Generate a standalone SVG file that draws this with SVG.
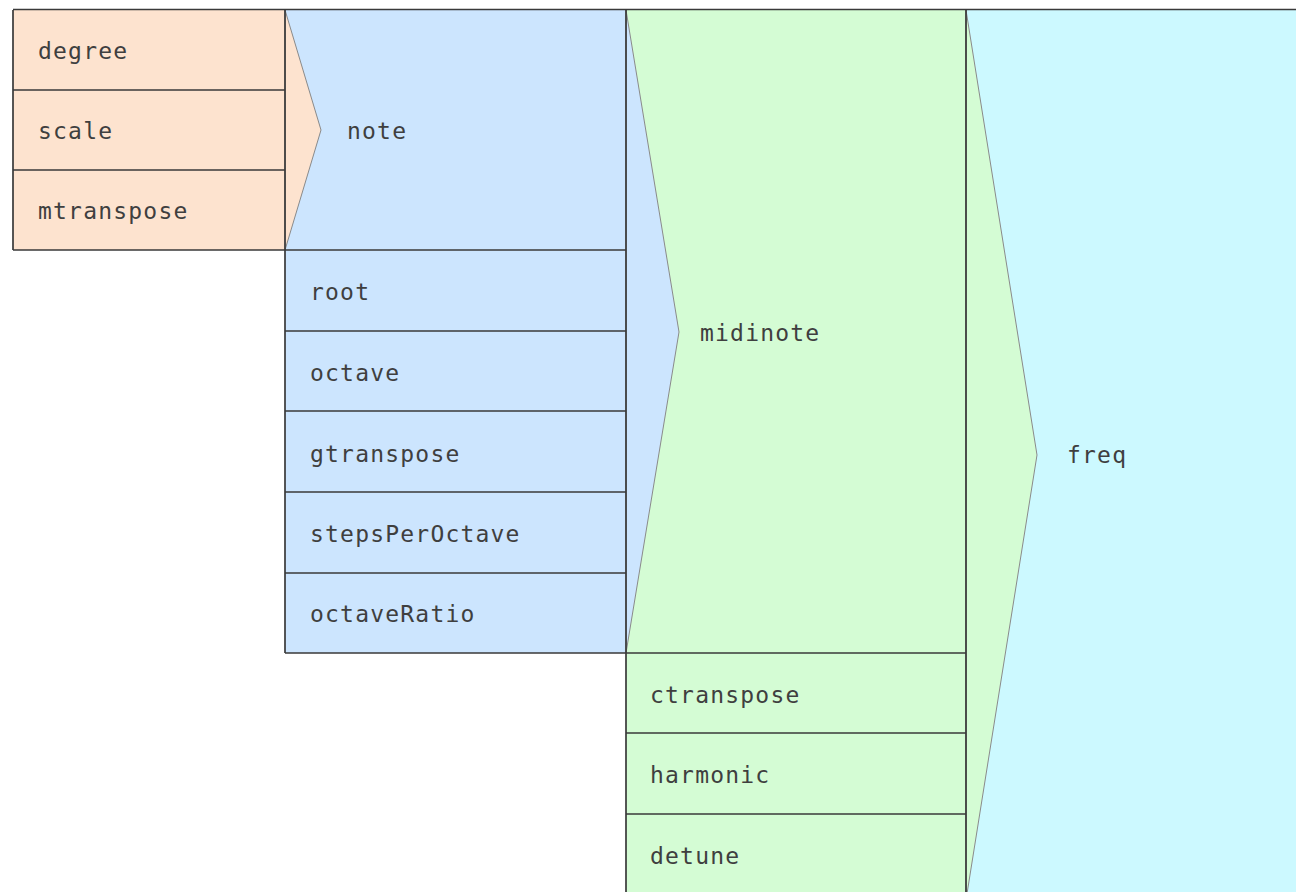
<svg xmlns="http://www.w3.org/2000/svg" width="1296" height="892" viewBox="0 0 1296 892">
<style>
.t{font-family:"DejaVu Sans Mono","Liberation Mono",monospace;font-size:23px;fill:#3f3f3f;letter-spacing:1.2px}
.peach{fill:#fde3cf}
.blue{fill:#cce5fe}
.green{fill:#d4fcd4}
.cyan{fill:#ccf9ff}
.ln{stroke:#3a3a3a;stroke-width:1.7;fill:none}
.chev{stroke:#8a8a8a;stroke-width:1}
</style>
<rect width="1296" height="892" fill="#ffffff"/>
<g id="freq">
<rect class="cyan" x="966" y="10" width="340" height="890"/>
<text class="t" x="1067" y="463">freq</text>
</g>
<g id="midinote">
<rect class="green" x="626" y="10" width="340" height="890"/>
<text class="t" x="700" y="341">midinote</text>
<text class="t" x="650" y="703">ctranspose</text>
<text class="t" x="650" y="783">harmonic</text>
<text class="t" x="650" y="864">detune</text>
</g>
<g id="note">
<rect class="blue" x="285" y="10" width="341" height="643"/>
<text class="t" x="347" y="139">note</text>
<text class="t" x="310" y="300">root</text>
<text class="t" x="310" y="381">octave</text>
<text class="t" x="310" y="462">gtranspose</text>
<text class="t" x="310" y="542">stepsPerOctave</text>
<text class="t" x="310" y="622">octaveRatio</text>
</g>
<g id="inputs">
<rect class="peach" x="13" y="10" width="272" height="240"/>
<text class="t" x="38" y="59">degree</text>
<text class="t" x="38" y="139">scale</text>
<text class="t" x="38" y="219">mtranspose</text>
</g>
<g id="connectors">
<polygon class="peach chev" points="285,10 321,130 285,250"/>
<polygon class="blue chev" points="626,10 679,332 626,653"/>
<polygon class="green chev" points="966,10 1037,455 966,900"/>
</g>
<g id="grid">
<line class="ln" x1="13" y1="9.5" x2="1296" y2="9.5" stroke="#777"/>
<path class="ln" d="M13,10V250 M285,10V653 M626,10V892 M966,10V892"/>
<path class="ln" d="M13,90H285 M13,170H285 M13,250H626 M285,331H626 M285,411H626 M285,492H626 M285,573H626 M285,653H966 M626,733H966 M626,814H966"/>
</g>
</svg>
